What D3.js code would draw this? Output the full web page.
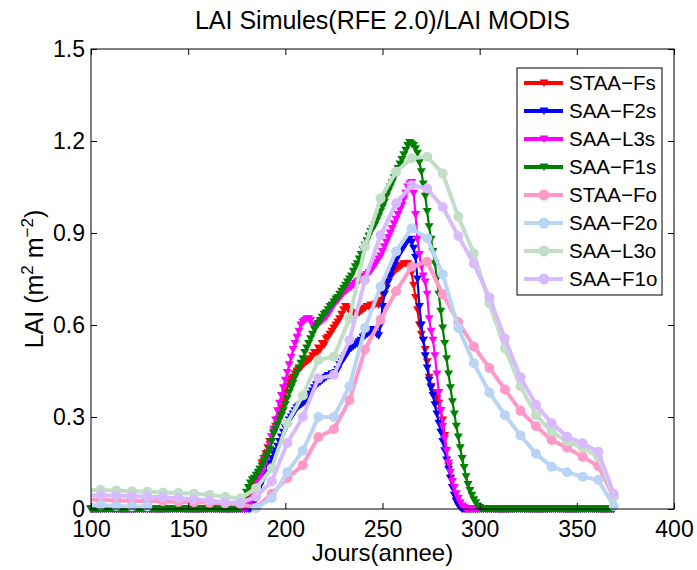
<!DOCTYPE html>
<html>
<head>
<meta charset="utf-8">
<script src="https://cdn.jsdelivr.net/npm/d3@7"></script>
<style>
body { margin: 0; background: #fff; }
text { font-family: "Liberation Sans", Arial, Helvetica, sans-serif; fill: #000; }
</style>
</head>
<body>
<div class="chart"></div>
<script>
// simulated LAI, one value per day, days 100..369
let simDays = d3.range(100, 370);
let staaFs = [
    0,0,0,0,0,0,0,0,0,0,
    0,0,0,0,0,0,0,0,0,0,
    0,0,0,0,0,0,0,0,0,0,
    0,0,0,0,0,0,0,0,0,0,
    0,0,0,0,0,0,0,0,0,0,
    0,0,0,0,0,0,0,0,0,0,
    0,0,0,0,0,0,0,0,0,0,
    0,0,0,0,0,0,0,0,0,0.01,
    0.02,0.035,0.05,0.065,0.08,0.095,0.11,0.13,0.15,0.165,
    0.18,0.2,0.22,0.235,0.25,0.27,0.29,0.31,0.33,0.35,
    0.38,0.4,0.415,0.425,0.43,0.44,0.45,0.455,0.46,0.47,
    0.475,0.48,0.485,0.49,0.5,0.51,0.505,0.525,0.52,0.54,
    0.535,0.555,0.56,0.57,0.58,0.59,0.6,0.61,0.62,0.635,
    0.65,0.66,0.655,0.645,0.64,0.63,0.635,0.64,0.64,0.645,
    0.65,0.655,0.66,0.66,0.665,0.66,0.665,0.67,0.665,0.68,
    0.7,0.72,0.735,0.75,0.76,0.765,0.775,0.78,0.785,0.79,
    0.795,0.8,0.8,0.8,0.79,0.77,0.73,0.69,0.65,0.6,
    0.57,0.55,0.52,0.48,0.43,0.4,0.38,0.37,0.36,0.345,
    0.32,0.29,0.24,0.19,0.14,0.1,0.07,0.045,0.025,0.012,
    0.005,0,0,0,0,0,0,0,0,0,
    0,0,0,0,0,0,0,0,0,0,
    0,0,0,0,0,0,0,0,0,0,
    0,0,0,0,0,0,0,0,0,0,
    0,0,0,0,0,0,0,0,0,0,
    0,0,0,0,0,0,0,0,0,0,
    0,0,0,0,0,0,0,0,0,0,
    0,0,0,0,0,0,0,0,0,0
];
let saaF2s = [
    0,0,0,0,0,0,0,0,0,0,
    0,0,0,0,0,0,0,0,0,0,
    0,0,0,0,0,0,0,0,0,0,
    0,0,0,0,0,0,0,0,0,0,
    0,0,0,0,0,0,0,0,0,0,
    0,0,0,0,0,0,0,0,0,0,
    0,0,0,0,0,0,0,0,0,0,
    0,0,0,0,0,0,0,0,0,0,
    0,0,0,0.005,0.02,0.04,0.06,0.075,0.09,0.105,
    0.12,0.135,0.15,0.165,0.18,0.19,0.205,0.22,0.235,0.25,
    0.265,0.28,0.29,0.3,0.31,0.32,0.33,0.335,0.34,0.345,
    0.35,0.36,0.365,0.375,0.385,0.395,0.405,0.41,0.415,0.42,
    0.425,0.43,0.435,0.435,0.44,0.44,0.445,0.455,0.47,0.48,
    0.49,0.5,0.51,0.52,0.525,0.53,0.535,0.54,0.545,0.55,
    0.56,0.565,0.57,0.575,0.58,0.585,0.58,0.57,0.565,0.6,
    0.66,0.7,0.72,0.74,0.76,0.78,0.795,0.81,0.825,0.835,
    0.845,0.855,0.865,0.875,0.88,0.87,0.85,0.82,0.75,0.66,
    0.6,0.55,0.5,0.46,0.42,0.395,0.37,0.34,0.31,0.28,
    0.25,0.22,0.19,0.16,0.13,0.1,0.07,0.045,0.025,0.012,
    0.005,0,0,0,0,0,0,0,0,0,
    0,0,0,0,0,0,0,0,0,0,
    0,0,0,0,0,0,0,0,0,0,
    0,0,0,0,0,0,0,0,0,0,
    0,0,0,0,0,0,0,0,0,0,
    0,0,0,0,0,0,0,0,0,0,
    0,0,0,0,0,0,0,0,0,0,
    0,0,0,0,0,0,0,0,0,0
];
let saaL3s = [
    0,0,0,0,0,0,0,0,0,0,
    0,0,0,0,0,0,0,0,0,0,
    0,0,0,0,0,0,0,0,0,0,
    0,0,0,0,0,0,0,0,0,0,
    0,0,0,0,0,0,0,0,0,0,
    0,0,0,0,0,0,0,0,0,0,
    0,0,0,0,0,0,0,0,0,0,
    0,0,0,0,0,0,0,0,0,0,
    0.005,0.01,0.02,0.035,0.05,0.07,0.085,0.1,0.12,0.14,
    0.16,0.185,0.21,0.235,0.26,0.29,0.32,0.345,0.37,0.395,
    0.42,0.445,0.47,0.495,0.52,0.54,0.56,0.58,0.6,0.61,
    0.615,0.62,0.62,0.615,0.6,0.595,0.6,0.605,0.61,0.615,
    0.62,0.625,0.635,0.645,0.655,0.665,0.675,0.68,0.69,0.695,
    0.705,0.71,0.715,0.72,0.725,0.73,0.735,0.74,0.745,0.75,
    0.755,0.76,0.765,0.77,0.775,0.785,0.795,0.805,0.815,0.825,
    0.84,0.855,0.87,0.885,0.9,0.915,0.93,0.945,0.96,0.975,
    0.99,1.01,1.03,1.05,1.06,1.065,1.03,0.96,0.88,0.83,
    0.79,0.76,0.74,0.7,0.62,0.58,0.55,0.5,0.44,0.38,
    0.32,0.27,0.23,0.19,0.15,0.12,0.09,0.07,0.05,0.035,
    0.02,0.01,0.005,0,0,0,0,0,0,0,
    0,0,0,0,0,0,0,0,0,0,
    0,0,0,0,0,0,0,0,0,0,
    0,0,0,0,0,0,0,0,0,0,
    0,0,0,0,0,0,0,0,0,0,
    0,0,0,0,0,0,0,0,0,0,
    0,0,0,0,0,0,0,0,0,0,
    0,0,0,0,0,0,0,0,0,0
];
let saaF1s = [
    0,0,0,0,0,0,0,0,0,0,
    0,0,0,0,0,0,0,0,0,0,
    0,0,0,0,0,0,0,0,0,0,
    0,0,0,0,0,0,0,0,0,0,
    0,0,0,0,0,0,0,0,0,0,
    0,0,0,0,0,0,0,0,0,0,
    0,0,0,0,0,0,0,0,0,0,
    0,0,0,0,0,0,0,0,0.01,0.03,
    0.055,0.07,0.085,0.095,0.1,0.11,0.12,0.13,0.14,0.155,
    0.17,0.18,0.195,0.22,0.245,0.26,0.275,0.29,0.305,0.32,
    0.34,0.36,0.38,0.395,0.41,0.43,0.445,0.46,0.475,0.49,
    0.51,0.525,0.54,0.555,0.57,0.585,0.595,0.605,0.615,0.625,
    0.635,0.64,0.65,0.66,0.665,0.675,0.685,0.69,0.7,0.71,
    0.72,0.73,0.74,0.75,0.76,0.775,0.79,0.8,0.815,0.83,
    0.845,0.86,0.875,0.89,0.905,0.915,0.925,0.94,0.955,0.97,
    0.985,1.0,1.02,1.035,1.05,1.065,1.08,1.095,1.11,1.125,
    1.14,1.155,1.17,1.185,1.195,1.19,1.185,1.175,1.16,1.13,
    1.1,1.06,1.02,0.97,0.92,0.88,0.84,0.8,0.75,0.7,
    0.645,0.59,0.54,0.49,0.44,0.395,0.35,0.31,0.27,0.235,
    0.2,0.165,0.135,0.105,0.08,0.06,0.045,0.03,0.02,0.01,
    0.005,0,0,0,0,0,0,0,0,0,
    0,0,0,0,0,0,0,0,0,0,
    0,0,0,0,0,0,0,0,0,0,
    0,0,0,0,0,0,0,0,0,0,
    0,0,0,0,0,0,0,0,0,0,
    0,0,0,0,0,0,0,0,0,0,
    0,0,0,0,0,0,0,0,0,0
];

// MODIS 8-day composites
let modisDays = [97,105,113,121,129,137,145,153,161,169,177,185,193,201,209,217,225,233,
    241,249,257,265,273,281,289,297,305,313,321,329,337,345,353,361,369];
let staaFo = [0.03,0.03,0.028,0.027,0.026,0.025,0.023,0.022,0.02,0.018,0.015,0.005,0.05,0.1,0.143,0.235,0.26,0.355,
    0.52,0.617,0.71,0.79,0.806,0.7,0.61,0.53,0.46,0.39,0.32,0.27,0.225,0.2,0.17,0.14,0.04];
let saaF2o = [0.012,0.012,0.01,0.008,0.008,null,null,null,null,null,null,0.003,0.035,0.12,0.19,0.3,0.3,0.4,
    0.59,0.725,0.84,0.915,0.883,0.765,0.59,0.475,0.38,0.306,0.24,0.18,0.138,0.12,0.105,0.095,0.01];
let saaL3o = [0.062,0.062,0.06,0.058,0.056,0.054,0.052,0.05,0.046,0.04,0.035,0.068,0.133,0.28,0.37,0.486,0.497,0.62,
    0.855,1.013,1.1,1.144,1.149,1.094,0.953,0.834,0.67,0.524,0.4,0.306,0.252,0.22,0.2,0.17,0.04];
let saaF1o = [0.045,0.045,0.044,0.042,0.04,0.038,0.035,0.032,0.028,0.022,0.02,0.04,0.09,0.215,0.3,0.426,0.437,0.55,
    0.747,0.893,0.997,1.056,1.045,0.985,0.89,0.8,0.69,0.556,0.43,0.34,0.28,0.236,0.214,0.187,0.05];

let seriesNames = ["STAA\u2212Fs","SAA\u2212F2s","SAA\u2212L3s","SAA\u2212F1s","STAA\u2212Fo","SAA\u2212F2o","SAA\u2212L3o","SAA\u2212F1o"];
let seriesColors = ["#ff0000","#0000ff","#ff00ff","#008000","#ff99c7","#bad4f5","#c2dec7","#d9baff"];
let xTicks = [100,150,200,250,300,350,400];
let yTicks = [0,0.3,0.6,0.9,1.2,1.5];

let svgWidth = 697;
let svgHeight = 570;
let margin = {top: 49, left: 91, right: 23, bottom: 61};
let width = svgWidth - margin.left - margin.right;
let height = svgHeight - margin.top - margin.bottom;

let svg = d3.select(".chart")
    .append("svg")
    .attr("width", svgWidth)
    .attr("height", svgHeight);
let chartgroup = svg.append("g")
    .attr("transform", `translate(${margin.left}, ${margin.top})`);

let xScale = d3.scaleLinear().domain([100, 400]).range([0, width]);
let yScale = d3.scaleLinear().domain([0, 1.5]).range([height, 0]);

let series = [
    {days: simDays, values: staaFs, marker: "tri"},
    {days: simDays, values: saaF2s, marker: "tri"},
    {days: simDays, values: saaL3s, marker: "tri"},
    {days: simDays, values: saaF1s, marker: "tri"},
    {days: modisDays, values: staaFo, marker: "dot"},
    {days: modisDays, values: saaF2o, marker: "dot"},
    {days: modisDays, values: saaL3o, marker: "dot"},
    {days: modisDays, values: saaF1o, marker: "dot"}
].map((s, i) => ({...s, name: seriesNames[i], color: seriesColors[i],
    points: s.days.map((d, j) => [d, s.values[j]])}));

svg.append("defs").append("clipPath")
    .attr("id", "plotclip")
    .append("rect")
    .attr("x", 0).attr("y", -6)
    .attr("width", width).attr("height", height + 9);

let triPath = "M-4.5,-3.5L4.5,-3.5L0,4Z";
let line = d3.line()
    .defined(d => d[1] != null)
    .x(d => xScale(d[0]))
    .y(d => yScale(d[1]));

series.forEach(function(s) {
    let g = chartgroup.append("g");
    g.append("path")
        .datum(s.points)
        .attr("clip-path", "url(#plotclip)")
        .attr("fill", "none")
        .attr("stroke", s.color)
        .attr("stroke-width", s.marker === "tri" ? 2.2 : 4)
        .attr("stroke-linejoin", "round")
        .attr("d", line);
    let pts = s.points.filter(d => d[1] != null && d[0] >= 100);
    if (s.marker === "tri") {
        g.selectAll("path.mk")
            .data(pts)
            .enter()
            .append("path")
            .attr("class", "mk")
            .attr("d", triPath)
            .attr("fill", s.color)
            .attr("transform", d => `translate(${xScale(d[0])}, ${yScale(d[1])})`);
    } else {
        g.selectAll("circle")
            .data(pts)
            .enter()
            .append("circle")
            .attr("cx", d => xScale(d[0]))
            .attr("cy", d => yScale(d[1]))
            .attr("r", 5)
            .attr("fill", s.color);
    }
});

// axes box with inward ticks on all four sides
let bottomAxis = d3.axisBottom(xScale).tickValues(xTicks).tickSize(-6).tickSizeOuter(0).tickPadding(12);
let topAxis = d3.axisTop(xScale).tickValues(xTicks).tickSize(-6).tickSizeOuter(0).tickFormat("");
let leftAxis = d3.axisLeft(yScale).tickValues(yTicks).tickSize(-6).tickSizeOuter(0).tickPadding(6)
    .tickFormat(d => d === 0 ? "0" : d3.format(".1f")(d));
let rightAxis = d3.axisRight(yScale).tickValues(yTicks).tickSize(-6).tickSizeOuter(0).tickFormat("");

let xAxisG = chartgroup.append("g").attr("transform", `translate(0, ${height})`).call(bottomAxis);
let topAxisG = chartgroup.append("g").call(topAxis);
let yAxisG = chartgroup.append("g").call(leftAxis);
let rightAxisG = chartgroup.append("g").attr("transform", `translate(${width}, 0)`).call(rightAxis);
[xAxisG, topAxisG, yAxisG, rightAxisG].forEach(function(a) {
    a.select(".domain").remove();
    a.selectAll("line").attr("stroke", "#000");
    a.selectAll("text").style("font-size", "23px").attr("fill", "#000");
});

chartgroup.append("rect")
    .attr("x", 0).attr("y", 0)
    .attr("width", width).attr("height", height)
    .attr("fill", "none")
    .attr("stroke", "#000")
    .attr("stroke-width", 1);

// title and labels
svg.append("text")
    .attr("x", margin.left + width / 2)
    .attr("y", 29)
    .attr("text-anchor", "middle")
    .style("font-size", "25px")
    .text("LAI Simules(RFE 2.0)/LAI MODIS");
svg.append("text")
    .attr("x", margin.left + width / 2)
    .attr("y", 561)
    .attr("text-anchor", "middle")
    .style("font-size", "24px")
    .text("Jours(annee)");
let yLabel = svg.append("text")
    .attr("transform", `translate(43, ${margin.top + height / 2}) rotate(-90)`)
    .attr("text-anchor", "middle")
    .style("font-size", "25px");
yLabel.append("tspan").text("LAI (m");
yLabel.append("tspan").attr("dy", -10).style("font-size", "17px").text("2");
yLabel.append("tspan").attr("dy", 10).text(" m");
yLabel.append("tspan").attr("dy", -10).style("font-size", "17px").text("\u22122");
yLabel.append("tspan").attr("dy", 10).text(")");

// legend
let legend = svg.append("g").attr("transform", "translate(517, 68)");
legend.append("rect")
    .attr("width", 145).attr("height", 227)
    .attr("fill", "#fff")
    .attr("stroke", "#000")
    .attr("stroke-width", 1);
series.forEach(function(s, i) {
    let row = legend.append("g").attr("transform", `translate(0, ${15 + i * 28})`);
    row.append("line")
        .attr("x1", 7).attr("x2", 46)
        .attr("stroke", s.color)
        .attr("stroke-width", 4);
    if (s.marker === "tri") {
        row.append("path").attr("d", triPath).attr("fill", s.color).attr("transform", "translate(27, 0)");
    } else {
        row.append("circle").attr("cx", 27).attr("r", 5.5).attr("fill", s.color);
    }
    row.append("text")
        .attr("x", 52)
        .attr("dy", "0.35em")
        .style("font-size", "20.5px")
        .text(s.name);
});
</script>
</body>
</html>
